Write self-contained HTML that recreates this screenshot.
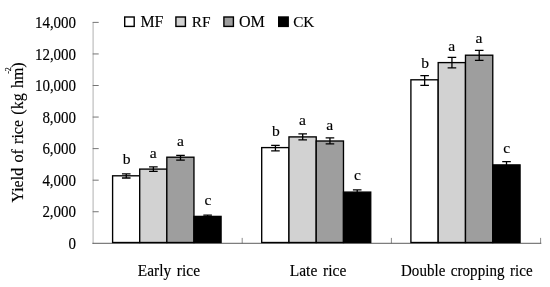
<!DOCTYPE html>
<html><head><meta charset="utf-8"><title>Yield of rice</title>
<style>
html,body{margin:0;padding:0;background:#fff;}
svg{display:block;}
text{font-family:"Liberation Serif","Times New Roman",serif;fill:#000;stroke:#000;stroke-width:0.15px;}
</style></head><body>
<svg xmlns="http://www.w3.org/2000/svg" width="550" height="287" viewBox="0 0 550 287">
<rect width="550" height="287" fill="#fff"/>

<g stroke="#bdbdbd" stroke-width="1.2" fill="none">
<line x1="93.1" y1="21.9" x2="93.1" y2="243.7"/>
</g>
<g stroke="#757575" stroke-width="1" fill="none">
<line x1="92.7" y1="211.74" x2="98.7" y2="211.74"/>
<line x1="92.7" y1="180.18" x2="98.7" y2="180.18"/>
<line x1="92.7" y1="148.62" x2="98.7" y2="148.62"/>
<line x1="92.7" y1="117.06" x2="98.7" y2="117.06"/>
<line x1="92.7" y1="85.50" x2="98.7" y2="85.50"/>
<line x1="92.7" y1="53.94" x2="98.7" y2="53.94"/>
<line x1="92.7" y1="22.38" x2="98.7" y2="22.38"/>
<line x1="242.20" y1="243.3" x2="242.20" y2="237.9" stroke="#858585" stroke-width="0.95"/>
<line x1="391.40" y1="243.3" x2="391.40" y2="237.9" stroke="#858585" stroke-width="0.95"/>
<line x1="540.60" y1="243.3" x2="540.60" y2="237.9" stroke="#858585" stroke-width="0.95"/>
</g>
<line x1="92.4" y1="243.3" x2="541.3" y2="243.3" stroke="#4c4c4c" stroke-width="0.9"/>
<text transform="translate(76.1,249.05) scale(1,1.07)" font-size="15" text-anchor="end">0</text>
<text transform="translate(76.1,217.49) scale(1,1.07)" font-size="15" text-anchor="end">2,000</text>
<text transform="translate(76.1,185.93) scale(1,1.07)" font-size="15" text-anchor="end">4,000</text>
<text transform="translate(76.1,154.37) scale(1,1.07)" font-size="15" text-anchor="end">6,000</text>
<text transform="translate(76.1,122.81) scale(1,1.07)" font-size="15" text-anchor="end">8,000</text>
<text transform="translate(76.1,91.25) scale(1,1.07)" font-size="15" text-anchor="end">10,000</text>
<text transform="translate(76.1,59.69) scale(1,1.07)" font-size="15" text-anchor="end">12,000</text>
<text transform="translate(76.1,28.13) scale(1,1.07)" font-size="15" text-anchor="end">14,000</text>
<rect x="112.60" y="175.80" width="27.12" height="66.70" fill="#ffffff" stroke="#000" stroke-width="1.35"/>
<rect x="139.72" y="169.10" width="27.12" height="73.40" fill="#d2d2d2" stroke="#000" stroke-width="1.35"/>
<rect x="166.84" y="157.20" width="27.12" height="85.30" fill="#9e9e9e" stroke="#000" stroke-width="1.35"/>
<rect x="193.96" y="216.40" width="27.12" height="26.10" fill="#000000" stroke="#000" stroke-width="1.35"/>
<path d="M126.26 173.90V178.00M121.96 173.90H130.56M121.96 178.00H130.56" stroke="#000" stroke-width="1.3" fill="none"/>
<text transform="translate(126.66,163.70) scale(1,0.97)" font-size="15.6" text-anchor="middle">b</text>
<path d="M153.38 166.90V171.40M149.08 166.90H157.68M149.08 171.40H157.68" stroke="#000" stroke-width="1.3" fill="none"/>
<text transform="translate(153.23,158.00) scale(1,0.9)" font-size="15.6" text-anchor="middle">a</text>
<path d="M180.50 155.30V160.10M176.20 155.30H184.80M176.20 160.10H184.80" stroke="#000" stroke-width="1.3" fill="none"/>
<text transform="translate(180.35,145.80) scale(1,0.9)" font-size="15.6" text-anchor="middle">a</text>
<path d="M207.62 215.20V217.40M203.32 215.20H211.92M203.32 217.40H211.92" stroke="#000" stroke-width="1.3" fill="none"/>
<text transform="translate(207.92,204.75) scale(1,0.9)" font-size="15.6" text-anchor="middle">c</text>
<rect x="261.70" y="147.60" width="27.26" height="94.90" fill="#ffffff" stroke="#000" stroke-width="1.35"/>
<rect x="288.96" y="136.90" width="27.26" height="105.60" fill="#d2d2d2" stroke="#000" stroke-width="1.35"/>
<rect x="316.22" y="141.00" width="27.26" height="101.50" fill="#9e9e9e" stroke="#000" stroke-width="1.35"/>
<rect x="343.48" y="192.10" width="27.26" height="50.40" fill="#000000" stroke="#000" stroke-width="1.35"/>
<path d="M275.43 145.30V150.90M271.13 145.30H279.73M271.13 150.90H279.73" stroke="#000" stroke-width="1.3" fill="none"/>
<text transform="translate(275.83,135.60) scale(1,0.97)" font-size="15.6" text-anchor="middle">b</text>
<path d="M302.69 133.80V139.80M298.39 133.80H306.99M298.39 139.80H306.99" stroke="#000" stroke-width="1.3" fill="none"/>
<text transform="translate(302.54,125.00) scale(1,0.9)" font-size="15.6" text-anchor="middle">a</text>
<path d="M329.95 137.80V143.90M325.65 137.80H334.25M325.65 143.90H334.25" stroke="#000" stroke-width="1.3" fill="none"/>
<text transform="translate(329.80,129.60) scale(1,0.9)" font-size="15.6" text-anchor="middle">a</text>
<path d="M357.21 189.80V193.50M352.91 189.80H361.51M352.91 193.50H361.51" stroke="#000" stroke-width="1.3" fill="none"/>
<text transform="translate(357.51,180.25) scale(1,0.9)" font-size="15.6" text-anchor="middle">c</text>
<rect x="410.90" y="79.80" width="27.29" height="162.70" fill="#ffffff" stroke="#000" stroke-width="1.35"/>
<rect x="438.19" y="62.60" width="27.29" height="179.90" fill="#d2d2d2" stroke="#000" stroke-width="1.35"/>
<rect x="465.48" y="55.20" width="27.29" height="187.30" fill="#9e9e9e" stroke="#000" stroke-width="1.35"/>
<rect x="492.77" y="164.90" width="27.29" height="77.60" fill="#000000" stroke="#000" stroke-width="1.35"/>
<path d="M424.64 75.60V85.30M420.34 75.60H428.94M420.34 85.30H428.94" stroke="#000" stroke-width="1.3" fill="none"/>
<text transform="translate(425.04,68.45) scale(1,0.97)" font-size="15.6" text-anchor="middle">b</text>
<path d="M451.94 57.30V67.80M447.63 57.30H456.24M447.63 67.80H456.24" stroke="#000" stroke-width="1.3" fill="none"/>
<text transform="translate(451.79,50.85) scale(1,0.9)" font-size="15.6" text-anchor="middle">a</text>
<path d="M479.22 50.40V60.30M474.92 50.40H483.52M474.92 60.30H483.52" stroke="#000" stroke-width="1.3" fill="none"/>
<text transform="translate(479.07,43.20) scale(1,0.9)" font-size="15.6" text-anchor="middle">a</text>
<path d="M506.51 161.70V167.50M502.21 161.70H510.81M502.21 167.50H510.81" stroke="#000" stroke-width="1.3" fill="none"/>
<text transform="translate(506.81,153.15) scale(1,0.9)" font-size="15.6" text-anchor="middle">c</text>
<rect x="124.7" y="17.0" width="9.5" height="9.4" fill="#ffffff" stroke="#000" stroke-width="1.4"/>
<text x="140.4" y="27.45" font-size="15.9">MF</text>
<rect x="175.89999999999998" y="17.0" width="9.5" height="9.4" fill="#d2d2d2" stroke="#000" stroke-width="1.4"/>
<text x="191.7" y="27.45" font-size="15.4">RF</text>
<rect x="223.89999999999998" y="17.0" width="9.5" height="9.4" fill="#9e9e9e" stroke="#000" stroke-width="1.4"/>
<text x="238.9" y="27.45" font-size="16.1">OM</text>
<rect x="278.7" y="17.0" width="9.5" height="9.4" fill="#000000" stroke="#000" stroke-width="1.4"/>
<text x="293.2" y="27.45" font-size="15.2">CK</text>
<text transform="translate(168.9,275.6) scale(1,1.05)" font-size="15.35" word-spacing="1.6" letter-spacing="0.06" text-anchor="middle">Early rice</text>
<text transform="translate(318.0,275.6) scale(1,1.05)" font-size="15.5" word-spacing="1.6" letter-spacing="0.06" text-anchor="middle">Late rice</text>
<text transform="translate(466.8,275.6) scale(1,1.05)" font-size="15.0" word-spacing="1.6" letter-spacing="0.06" text-anchor="middle">Double cropping rice</text>
<text transform="translate(23.2,202.5) rotate(-90) scale(1,1.04)" font-size="16" word-spacing="1.3">Yield of rice (kg hm)</text>
<text transform="translate(10.9,73.8) rotate(-90)" font-size="8">-2</text>
</svg></body></html>
